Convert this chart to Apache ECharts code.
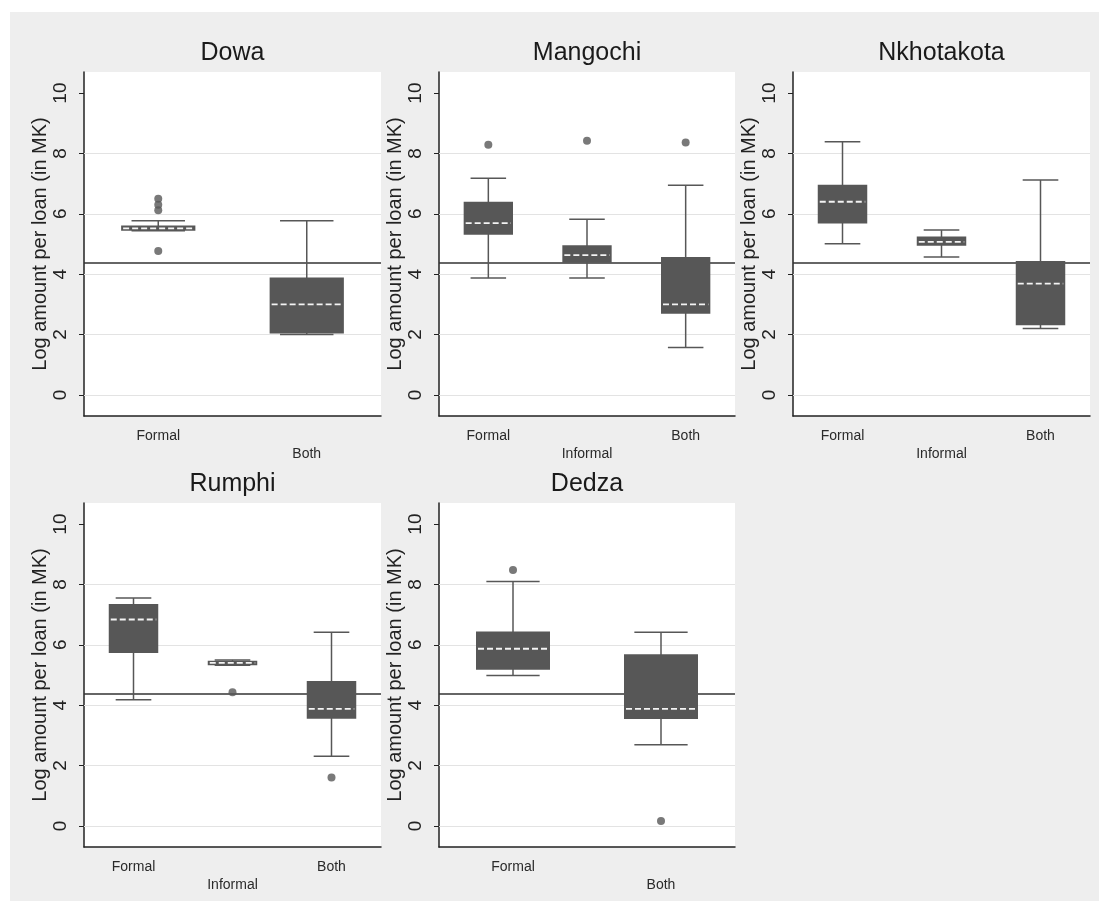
<!DOCTYPE html>
<html>
<head>
<meta charset="utf-8">
<script src="https://cdn.jsdelivr.net/npm/echarts@6/dist/echarts.min.js"></script>
<style>
  html, body { margin: 0; padding: 0; background: #ffffff; }
  #frame { position: absolute; left: 10px; top: 12px; width: 1089px; height: 889px; background: #eeeeee; }
  #chart { position: absolute; left: 0; top: 0; width: 1099px; height: 907px; }
</style>
</head>
<body>
<div id="frame"></div>
<div id="chart"></div>
<script>
// Log loan amount by lender type, one box per category: [lower whisker, Q1, median, Q3, upper whisker]
const refLine = 4.38;
const yTicks = [0, 2, 4, 6, 8, 10];
const gridValues = [0, 2, 4, 6, 8];
const yLabel = 'Log amount per loan (in MK)';

const dowaCats = ['Formal', 'Both'];
const dowaBoxes = [
  [5.44, 5.44, 5.52, 5.61, 5.77],
  [2.00, 2.03, 3.00, 3.89, 5.77]
];
const dowaOutliers = [['Formal', 6.50], ['Formal', 6.30], ['Formal', 6.12], ['Formal', 4.77]];

const mangochiCats = ['Formal', 'Informal', 'Both'];
const mangochiBoxes = [
  [3.87, 5.31, 5.69, 6.40, 7.18],
  [3.87, 4.38, 4.63, 4.96, 5.82],
  [1.57, 2.69, 3.00, 4.57, 6.95]
];
const mangochiOutliers = [['Formal', 8.29], ['Informal', 8.42], ['Both', 8.36]];

const nkhotakotaCats = ['Formal', 'Informal', 'Both'];
const nkhotakotaBoxes = [
  [5.01, 5.68, 6.40, 6.96, 8.39],
  [4.57, 4.94, 5.07, 5.25, 5.46],
  [2.20, 2.31, 3.69, 4.44, 7.12]
];
const nkhotakotaOutliers = [];

const rumphiCats = ['Formal', 'Informal', 'Both'];
const rumphiBoxes = [
  [4.18, 5.73, 6.84, 7.35, 7.55],
  [5.32, 5.32, 5.40, 5.47, 5.50],
  [2.31, 3.55, 3.88, 4.80, 6.42]
];
const rumphiOutliers = [['Informal', 4.43], ['Both', 1.60]];

const dedzaCats = ['Formal', 'Both'];
const dedzaBoxes = [
  [4.98, 5.17, 5.87, 6.44, 8.10],
  [2.69, 3.54, 3.88, 5.69, 6.42]
];
const dedzaOutliers = [['Formal', 8.48], ['Both', 0.16]];

const panels = [
  { title: 'Dowa', cats: dowaCats, boxes: dowaBoxes, outliers: dowaOutliers },
  { title: 'Mangochi', cats: mangochiCats, boxes: mangochiBoxes, outliers: mangochiOutliers },
  { title: 'Nkhotakota', cats: nkhotakotaCats, boxes: nkhotakotaBoxes, outliers: nkhotakotaOutliers },
  { title: 'Rumphi', cats: rumphiCats, boxes: rumphiBoxes, outliers: rumphiOutliers },
  { title: 'Dedza', cats: dedzaCats, boxes: dedzaBoxes, outliers: dedzaOutliers }
];

// Plot-region placement of each panel (pixels)
const layout = [
  { left: 84, top: 72, width: 297, height: 344 },
  { left: 439, top: 72, width: 296, height: 344 },
  { left: 793, top: 72, width: 297, height: 344 },
  { left: 84, top: 503, width: 297, height: 344 },
  { left: 439, top: 503, width: 296, height: 344 }
];

const FONT = '"Liberation Sans", Arial, Helvetica, sans-serif';
const BOX_COLOR = '#575757';
const AXIS_COLOR = '#222222';

function renderBox(params, api) {
  const x = api.value(0);
  const low = api.value(1), q1 = api.value(2), med = api.value(3), q3 = api.value(4), high = api.value(5);
  const band = api.size([1, 0])[0];
  const boxW = band * 0.5;
  const capW = boxW * 0.72;
  const pLow = api.coord([x, low]);
  const pHigh = api.coord([x, high]);
  const pQ1 = api.coord([x, q1]);
  const pQ3 = api.coord([x, q3]);
  const pMed = api.coord([x, med]);
  const cx = pLow[0];
  const ls = { stroke: BOX_COLOR, lineWidth: 1.5 };
  return {
    type: 'group',
    children: [
      { type: 'line', shape: { x1: cx, y1: pLow[1], x2: cx, y2: pHigh[1] }, style: ls },
      { type: 'line', shape: { x1: cx - capW / 2, y1: pLow[1], x2: cx + capW / 2, y2: pLow[1] }, style: ls },
      { type: 'line', shape: { x1: cx - capW / 2, y1: pHigh[1], x2: cx + capW / 2, y2: pHigh[1] }, style: ls },
      { type: 'rect', shape: { x: cx - boxW / 2, y: pQ3[1], width: boxW, height: Math.max(pQ1[1] - pQ3[1], 1) }, style: { fill: BOX_COLOR } },
      { type: 'line', shape: { x1: cx - boxW / 2 + 2, y1: pMed[1], x2: cx + boxW / 2 - 2, y2: pMed[1] }, style: { stroke: '#f4f4f4', lineWidth: 1.8, lineDash: [6, 3] } }
    ]
  };
}

const grids = [], xAxes = [], yAxes = [], series = [], titles = [];

panels.forEach((p, i) => {
  const L = layout[i];
  grids.push({
    left: L.left, top: L.top, width: L.width, height: L.height,
    show: true, backgroundColor: '#ffffff', borderWidth: 0
  });
  titles.push({
    text: p.title,
    left: L.left + L.width / 2,
    top: L.top - 31,
    textAlign: 'center',
    padding: 0,
    textStyle: { fontFamily: FONT, fontSize: 25, fontWeight: 'normal', color: '#1a1a1a' }
  });
  xAxes.push({
    type: 'category', gridIndex: i, data: p.cats, boundaryGap: true,
    axisLine: { show: true, onZero: false, lineStyle: { color: AXIS_COLOR, width: 1.5 } },
    axisTick: { show: false },
    axisLabel: {
      interval: 0, margin: 11, fontFamily: FONT, fontSize: 14, lineHeight: 18, color: '#2a2a2a',
      formatter: (v, idx) => (idx % 2 ? '\n' + v : v)
    },
    splitLine: { show: false }
  });
  yAxes.push({
    type: 'value', gridIndex: i, min: -0.7, max: 10.7,
    name: yLabel, nameLocation: 'middle', nameGap: 33, nameRotate: 90,
    nameTextStyle: { fontFamily: FONT, fontSize: 20, color: '#222222' },
    axisLine: { show: true, lineStyle: { color: AXIS_COLOR, width: 1.5 } },
    axisTick: { show: true, length: 5, customValues: yTicks, lineStyle: { color: AXIS_COLOR, width: 1 } },
    axisLabel: { rotate: 90, margin: 14, fontFamily: FONT, fontSize: 19, color: '#222222', customValues: yTicks },
    splitLine: { show: false }
  });
  // gridlines and the reference line, kept beneath the boxes
  series.push({
    type: 'line', xAxisIndex: i, yAxisIndex: i, data: [], z: 1, silent: true,
    markLine: {
      z: 1, silent: true, symbol: 'none', label: { show: false }, animation: false,
      data: gridValues.map(v => ({ yAxis: v, lineStyle: { color: '#e3e3e3', width: 1, type: 'solid' } }))
        .concat([{ yAxis: refLine, lineStyle: { color: '#333333', width: 1.5, type: 'solid' } }])
    }
  });
  series.push({
    type: 'custom', xAxisIndex: i, yAxisIndex: i, z: 10,
    renderItem: renderBox,
    encode: { x: 0, y: [1, 2, 3, 4, 5] },
    data: p.boxes.map((b, k) => [k].concat(b))
  });
  series.push({
    type: 'scatter', xAxisIndex: i, yAxisIndex: i, z: 11,
    symbol: 'circle', symbolSize: 8,
    itemStyle: { color: BOX_COLOR },
    data: p.outliers
  });
});

const chart = echarts.init(document.getElementById('chart'), null, { renderer: 'canvas' });
chart.setOption({
  backgroundColor: 'transparent',
  animation: false,
  title: titles,
  grid: grids,
  xAxis: xAxes,
  yAxis: yAxes,
  series: series
});
</script>
</body>
</html>
